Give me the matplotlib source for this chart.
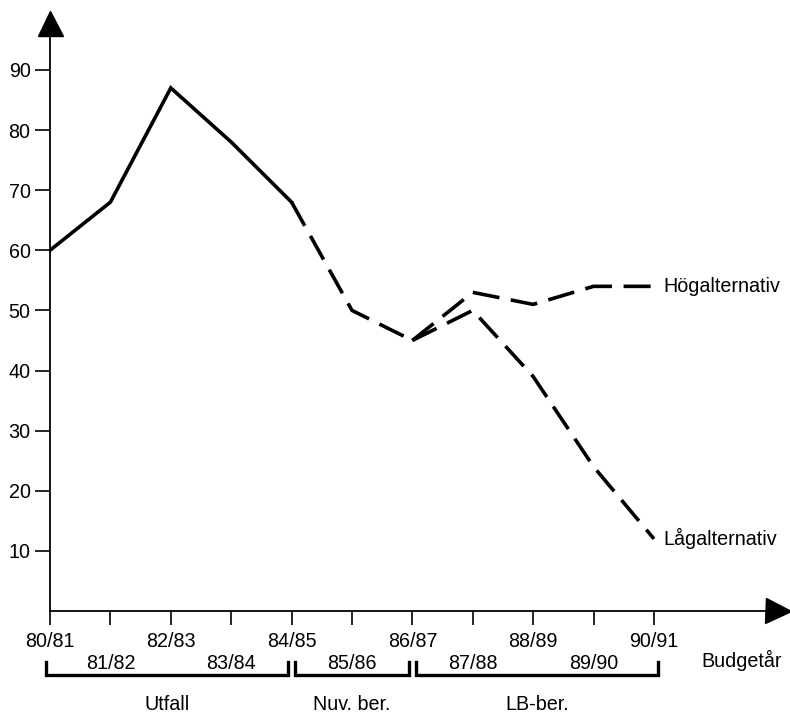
import numpy as np
import matplotlib.pyplot as plt
from matplotlib import transforms

plt.rcParams['font.family'] = ['Liberation Sans', 'DejaVu Sans']

years = ['80/81', '81/82', '82/83', '83/84', '84/85', '85/86',
         '86/87', '87/88', '88/89', '89/90', '90/91']
# utfall (solid)
utfall_x = [0, 1, 2, 3, 4]
utfall_y = [60, 68, 87, 78, 68]
# current estimate (dashed)
nuv_x = [4, 5, 6]
nuv_y = [68, 50, 45]
# long-term alternatives
alt_x = [6, 7, 8, 9, 10]
hog_y = [45, 53, 51, 54, 54]
lag_y = [45, 50, 39, 24, 12]

groups = ['Utfall', 'Nuv. ber.', 'LB-ber.']
group_span = [(0, 4), (4, 6), (6, 10)]

fs = 14.2
fig = plt.figure(figsize=(7.9, 7.17), dpi=100)
W, H = 790, 717
ax = fig.add_axes([50 / W, (H - 611) / H, (782 - 50) / W, (611 - 17) / H])

lw = 2.6
ax.plot(utfall_x, utfall_y, color='black', lw=lw, solid_joinstyle='miter')
dash = (7.5, 3.2)
ax.plot(nuv_x, nuv_y, color='black', lw=lw, dashes=dash)
ax.plot(alt_x, hog_y, color='black', lw=lw, dashes=dash)
ax.plot(alt_x, lag_y, color='black', lw=lw, dashes=dash)

ax.text(10.15, hog_y[-1], 'Högalternativ', fontsize=fs, va='center', ha='left')
ax.text(10.15, lag_y[-1], 'Lågalternativ', fontsize=fs, va='center', ha='left')

ax.set_xlim(0, 12.12)
ax.set_ylim(0, 98.8)

for s in ['top', 'right']:
    ax.spines[s].set_visible(False)
for s in ['left', 'bottom']:
    ax.spines[s].set_linewidth(1.3)

# arrow heads
ax.plot(0.995, 0, marker='>', ms=18, color='black', transform=ax.transAxes,
        clip_on=False)
ax.plot(0, 0.99, marker='^', ms=18, color='black', transform=ax.transAxes,
        clip_on=False)

ax.set_yticks(range(10, 100, 10))
ax.tick_params(axis='y', length=11, width=1.2, labelsize=fs, pad=3)
ax.set_xticks(range(len(years)))
ax.set_xticklabels([y if i % 2 == 0 else '\n' + y for i, y in enumerate(years)])
ax.tick_params(axis='x', length=10, width=1.2, labelsize=fs, pad=5)
for lab in ax.get_xticklabels():
    lab.set_linespacing(1.2)

ax.text(1.0, -0.084, 'Budgetår', fontsize=fs, ha='right', va='center',
        transform=ax.transAxes)

# brackets below the axis
trans = transforms.blended_transform_factory(ax.transData, fig.transFigure)
yb = (H - 675) / H
yt = (H - 662) / H
ylab = (H - 705) / H
inset = 0.06
for name, (a, b) in zip(groups, group_span):
    x0, x1 = a - inset, b - inset if b != 10 else b + inset
    if a > 0:
        x0 = a + inset
    ax.plot([x0, x0, x1, x1], [yt, yb, yb, yt], color='black', lw=2.4,
            transform=trans, clip_on=False, solid_joinstyle='miter')
    ax.text((x0 + x1) / 2, ylab, name, fontsize=fs, ha='center', va='center',
            transform=trans)

fig.savefig('out.png', dpi=100)
